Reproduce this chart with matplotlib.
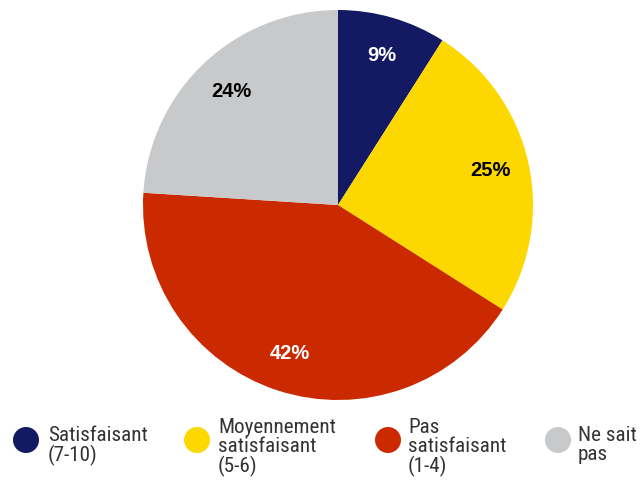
import matplotlib
matplotlib.use("Agg")
import matplotlib.pyplot as plt
from matplotlib.patches import Circle
from matplotlib import font_manager

categories = ["Satisfaisant\n(7-10)", "Moyennement\nsatisfaisant\n(5-6)",
              "Pas\nsatisfaisant\n(1-4)", "Ne sait\npas"]
values = [9, 25, 42, 24]
colors = ["#131a63", "#fdd800", "#cb2a00", "#c8c9cb"]
label_colors = ["white", "black", "white", "black"]

installed = {f.name for f in font_manager.fontManager.ttflist}
narrow = [f for f in ["Liberation Sans Narrow", "Arial Narrow", "Roboto Condensed",
                      "Open Sans Condensed"] if f in installed]
legend_family = narrow[:1] + ["Liberation Sans", "DejaVu Sans"]
legend_size = 15.2 if narrow else 14.5

W, H = 644, 482
fig = plt.figure(figsize=(W / 100, H / 100), dpi=100)

# pie axes: centre (338, 205) px, radius 195 px
cx, cy, r = 338, 205, 195
ax = fig.add_axes([(cx - r) / W, (H - cy - r) / H, 2 * r / W, 2 * r / H])
wedges, texts, autotexts = ax.pie(
    values, colors=colors, startangle=90, counterclock=False,
    autopct=lambda p: f"{p:.0f}%", pctdistance=0.8,
    wedgeprops=dict(linewidth=0),
    textprops=dict(fontsize=14.5, fontweight="bold", family=["Liberation Sans", "DejaVu Sans"]))
for t, c in zip(autotexts, label_colors):
    t.set_color(c)
ax.set_aspect("equal")
ax.set_xlim(-1, 1)
ax.set_ylim(-1, 1)
ax.axis("off")

# legend drawn in pixel space
lax = fig.add_axes([0, 0, 1, 1])
lax.set_xlim(0, W)
lax.set_ylim(H, 0)
lax.axis("off")
marker_x = [26, 197, 388, 558]
marker_y = 440
text_x = [48, 218, 408, 578]
text_top = [426, 418, 418, 426]
for mx, tx, ty, lab, col in zip(marker_x, text_x, text_top, categories, colors):
    lax.add_patch(Circle((mx, marker_y), 13, color=col, lw=0))
    lax.text(tx, ty, lab, ha="left", va="top", fontsize=legend_size, linespacing=1.0,
             family=legend_family, color="#333333")

fig.savefig("out.png", dpi=100)
